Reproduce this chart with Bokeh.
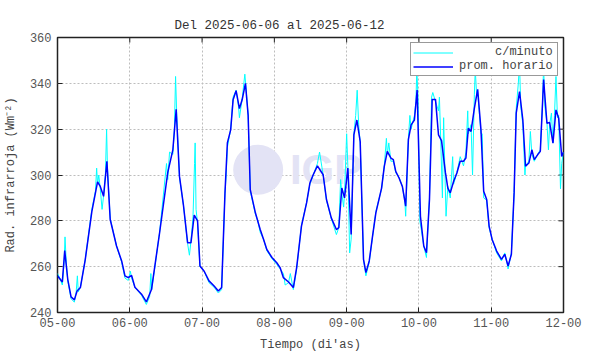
from bokeh.plotting import figure
from bokeh.models import FixedTicker, Legend, LegendItem
from bokeh.embed import file_html
from bokeh.resources import INLINE
from bokeh.core.properties import value
import math

title_text = "Del 2025-06-06 al 2025-06-12"
x_label = "Tiempo (di'as)"
y_label = "Rad. infrarroja (Wm\u207b\u00b2)"
series_labels = ["c/minuto", "prom. horario"]
x_ticks = [5, 6, 7, 8, 9, 10, 11, 12]
x_tick_labels = ["05-00", "06-00", "07-00", "08-00", "09-00", "10-00", "11-00", "12-00"]
y_ticks = [240, 260, 280, 300, 320, 340, 360]

# hourly mean (hours since 05-00)
hour_h = [0, 1.6, 2.4, 3.4, 4.5, 5.6, 6.5, 7.6, 9.2, 11.4, 13.3, 14.2, 15.3, 16.4, 17.5,
          19.6, 21.3, 22.4, 23.5, 24.6, 25.7, 27.9, 29.5, 31.2, 33.9, 36.6, 38.3, 39.4,
          40.5, 41.8, 43.2, 44.3, 45.4, 46.5, 47.3, 48.7, 50.3, 52, 53.4, 54.5, 55.6,
          56.4, 57.5, 58.3, 59.3, 60.4, 61.3, 62.4, 63.3, 64, 65.7, 67.3, 68.4, 69.5,
          71.2, 72.8, 73.9, 75, 76.7, 78.3, 79.4, 81, 82.7, 83.8, 84.9, 86.3, 88.2,
          89.3, 90.9, 92.6, 93.4, 94.4, 95.3, 96.4, 97.5, 98.4, 99.4, 100.5, 101.6,
          102.4, 103.5, 104.6, 105.7, 107.6, 108.5, 109.5, 110.7, 111.5, 112.3, 113.4,
          114.5, 115.6, 116.5, 117.4, 118.5, 119.4, 120.5, 121.6, 122.5, 123.5, 124.4,
          125.5, 126.5, 127.5, 128.8, 129.6, 130.4, 131.5, 132.6, 133.7, 134.8, 135.6,
          136.4, 137.3, 138.4, 139.5, 140.6, 141.5, 142.5, 143.3, 144.3, 145.8, 147.4,
          148.5, 149.6, 150.7, 151.6, 152.3, 153.4, 154.5, 155.4, 156.5, 157.5, 158.3,
          159.4, 160.3, 161.4, 162.5, 163.4, 164.5, 165.5, 166.4, 167.4, 168]
hour_v = [256, 253.3, 267, 254.5, 246.8, 245.5, 249.4, 250.9, 263, 284, 297, 295, 290.7,
          306, 280.6, 269, 262.5, 256, 255.2, 256.2, 251, 248, 244.6, 250, 274.8, 301,
          311, 328.7, 299.4, 287, 270.4, 270.4, 282.5, 280, 260.3, 258, 253.8, 251.6,
          249.4, 250.9, 292, 314, 319.7, 332.8, 336.8, 329, 332.8, 340, 326, 293.6,
          283.5, 276.2, 272, 267.5, 264, 261.7, 259.6, 255.2, 253.3, 250.9, 259.6, 277.7,
          287.8, 296.5, 300.1, 304, 300.1, 289.3, 281.3, 276.2, 277, 294.3, 290, 303,
          274, 317.5, 324, 314.6, 263.2, 257.4, 262.5, 273.3, 283.5, 294.3, 303.8, 310.3,
          307.4, 306.7, 301.6, 298.7, 295, 286.4, 315.4, 321.9, 324, 337.1, 282, 269,
          266.1, 289.3, 333, 333, 317.5, 315, 301, 294.3, 292.2, 297.2, 300.9, 306, 306,
          307.4, 320.4, 319, 329.1, 337.4, 319.7, 292.9, 289.3, 277.7, 271.9, 266.8,
          263.2, 265.4, 260.3, 265.4, 292.2, 327, 336.4, 324, 303.8, 305.2, 311, 306.7,
          308.8, 310.3, 341.7, 322.6, 322.9, 313.9, 328.4, 324.8, 308.1, 310]

# per-minute readings (sampled where visible)
min_h = [0, 0.8, 1.6, 2.2, 2.5, 2.9, 3.4, 4.5, 5.6, 6.2, 6.6, 6.9, 7.6, 9.2, 11.4, 12.6,
         13.0, 13.3, 13.7, 14.2, 14.8, 15.3, 15.9, 16.3, 16.6, 17.5, 19.6, 21.3, 22.4,
         23.5, 24.2, 24.6, 25.7, 27.9, 29.5, 30.6, 31.0, 31.3, 33.9, 36.2, 36.6, 37.2,
         38.3, 38.8, 39.2, 39.6, 40.5, 41.8, 43.2, 43.8, 44.3, 45.0, 45.5, 45.7, 46.0,
         46.5, 47.3, 48.7, 50.3, 52, 53.4, 54.5, 55.6, 56.0, 56.4, 57.5, 58.3, 59.3,
         60.1, 60.4, 61.3, 62.2, 62.6, 63.3, 64, 65.7, 66.5, 67.3, 68.4, 69.5, 71.2,
         72.8, 73.9, 75, 75.6, 76.7, 77.3, 78.3, 79.4, 81, 82.7, 83.8, 84.9, 86.3, 87,
         88.2, 89.3, 90.9, 92.6, 93.4, 94.0, 94.4, 95.0, 95.3, 96.0, 96.4, 97.0, 97.5,
         98.4, 99.0, 99.5, 100.0, 100.5, 101.6, 102.4, 103.5, 104.6, 105.7, 107.6,
         108.5, 109.2, 109.5, 110.0, 110.7, 111.5, 112.0, 112.3, 113.4, 114.5, 115.3,
         115.6, 116.5, 117.0, 117.4, 118.5, 119.0, 119.3, 119.7, 120.3, 120.8, 121.6,
         122.5, 123.5, 124.2, 124.6, 125.5, 126.5, 126.8, 127.2, 127.8, 128.2, 128.6,
         129.0, 129.6, 130.4, 131.2, 131.5, 132.6, 133.7, 134.8, 135.6, 136.2, 136.4,
         137.3, 137.8, 138.4, 138.7, 139.2, 139.5, 140.6, 141.0, 141.5, 142.5, 143.3,
         144.3, 145.8, 147.4, 148.5, 149.2, 149.6, 150.7, 151.6, 152.3, 153.0, 153.4,
         153.8, 154.5, 155.2, 155.4, 156.5, 157.0, 157.5, 158.3, 159.4, 160.3, 161.0,
         161.4, 161.8, 162.5, 163.0, 163.4, 164.0, 164.5, 165.0, 165.5, 166.0, 166.4,
         167.0, 167.4, 168]
min_v = [257, 255, 252, 262, 273, 262, 254, 246, 244.5, 249, 256, 249, 251, 263, 285, 293,
         303, 296, 300, 294, 285, 291, 300, 320, 303, 281, 269, 262, 255, 254, 258, 255,
         251, 247.5, 243.5, 247, 257, 250, 275, 305, 298, 310, 309, 320, 343, 326, 299,
         287, 270, 265, 271, 282, 305, 314, 285, 279, 260, 258, 253, 251, 248.5, 250,
         292, 300, 312, 320, 334, 337, 330, 325, 333, 344, 338, 326, 293, 283, 280, 275,
         272, 267, 263.5, 261, 259, 257, 252, 253, 257, 250, 259, 278, 288, 296, 300,
         305, 310, 300, 289, 281, 274, 277, 298, 292, 286, 292, 318, 304, 266, 272, 318,
         326, 337, 322, 314, 263, 256, 262, 273, 284, 294, 304, 316, 309, 314, 306, 306,
         303, 301, 299, 295, 289, 282, 316, 326, 320, 326, 332, 346, 334, 280, 276, 269,
         264, 290, 334, 336, 332, 328, 334, 317, 290, 325, 303, 282, 295, 290, 308, 296,
         301, 308, 304, 310, 328, 318, 322, 300, 335, 346, 334, 336, 318, 318, 290, 289,
         277, 272, 266, 262.5, 266, 262, 259, 266, 292, 329, 340, 349, 330, 322, 300,
         304, 306, 319, 309, 306, 309, 311, 330, 348, 330, 323, 311, 322, 327, 314, 326,
         343, 325, 326, 294, 305, 310]

hour_x = [5 + h / 24 for h in hour_h]
min_x = [5 + h / 24 for h in min_h]

FONT = "Liberation Mono"

p = figure(width=590, height=354, x_range=(5, 12), y_range=(240, 360),
           output_backend="svg", toolbar_location=None,
           min_border_left=54, min_border_right=27, min_border_top=37, min_border_bottom=41)

p.title.text = title_text
p.title.align = "left"
p.title.offset = 117
p.title.text_font = FONT
p.title.text_font_size = "12.5px"
p.title.text_font_style = "normal"
p.title.text_color = "#333333"

p.outline_line_color = "#222222"
p.outline_line_width = 1.5
p.background_fill_color = "white"
p.border_fill_color = "white"

xt = FixedTicker(ticks=x_ticks, minor_ticks=[])
yt = FixedTicker(ticks=y_ticks, minor_ticks=[])

for ax in (p.xaxis[0], p.yaxis[0]):
    ax.axis_line_color = None
    ax.major_tick_in = 5
    ax.major_tick_out = 0
    ax.major_tick_line_color = "#222222"
    ax.minor_tick_line_color = None
    ax.major_label_text_font = FONT
    ax.major_label_text_font_size = "12px"
    ax.major_label_text_color = "#555555"
    ax.axis_label_text_font = FONT
    ax.axis_label_text_font_size = "12px"
    ax.axis_label_text_font_style = "normal"
    ax.axis_label_text_color = "#444444"

p.xaxis[0].ticker = xt
p.xaxis[0].major_label_overrides = dict(zip(x_ticks, x_tick_labels))
p.xaxis[0].axis_label = x_label
p.xaxis[0].major_label_standoff = 5
p.xaxis[0].axis_label_standoff = 8
p.yaxis[0].ticker = yt
p.yaxis[0].axis_label = y_label
p.yaxis[0].major_label_standoff = 6
p.yaxis[0].axis_label_standoff = 9

for g in (p.xgrid[0], p.ygrid[0]):
    g.grid_line_dash = "2 2"
    g.grid_line_color = "#bdbdbd"
    g.grid_line_width = 1
p.xgrid[0].ticker = xt
p.ygrid[0].ticker = yt

# watermark
p.scatter([7.776], [302.3], size=50, fill_color="#e3e3f5", line_color=None)
p.text([8.215], [302.3], text=["IGP"], text_font=value("Liberation Sans"),
       text_font_size="42px", text_font_style="bold", text_color="#e3e3f5",
       text_baseline="middle", text_align="left")

# inward ticks on the top and right borders (clipped to the frame)
p.scatter(x_ticks, [y_ticks[-1]] * len(x_ticks), marker="dash", angle=math.pi / 2,
          size=10, line_color="#222222", line_width=1)
p.scatter([x_ticks[-1]] * len(y_ticks), y_ticks, marker="dash",
          size=10, line_color="#222222", line_width=1)

r1 = p.line(min_x, min_v, line_color="#00ffff", line_width=1)
r2 = p.line(hour_x, hour_v, line_color="#0000ff", line_width=1.5)

width_chars = max(len(s) for s in series_labels)
legend = Legend(items=[LegendItem(label="\u00a0" * (width_chars - len(s)) + s, renderers=[r])
                       for s, r in zip(series_labels, [r1, r2])],
                location="top_right")
legend.border_line_color = "#333333"
legend.border_line_width = 1
legend.background_fill_color = "white"
legend.background_fill_alpha = 1
legend.label_text_font = FONT
legend.label_text_font_size = "12px"
legend.label_text_color = "#444444"
legend.glyph_width = 40
legend.glyph_height = 11
legend.label_height = 11
legend.spacing = 0
legend.padding = 2
legend.margin = 5
legend.label_standoff = 6
legend.label_width = 96
p.add_layout(legend)

open("out.html", "w").write(file_html(p, INLINE))
